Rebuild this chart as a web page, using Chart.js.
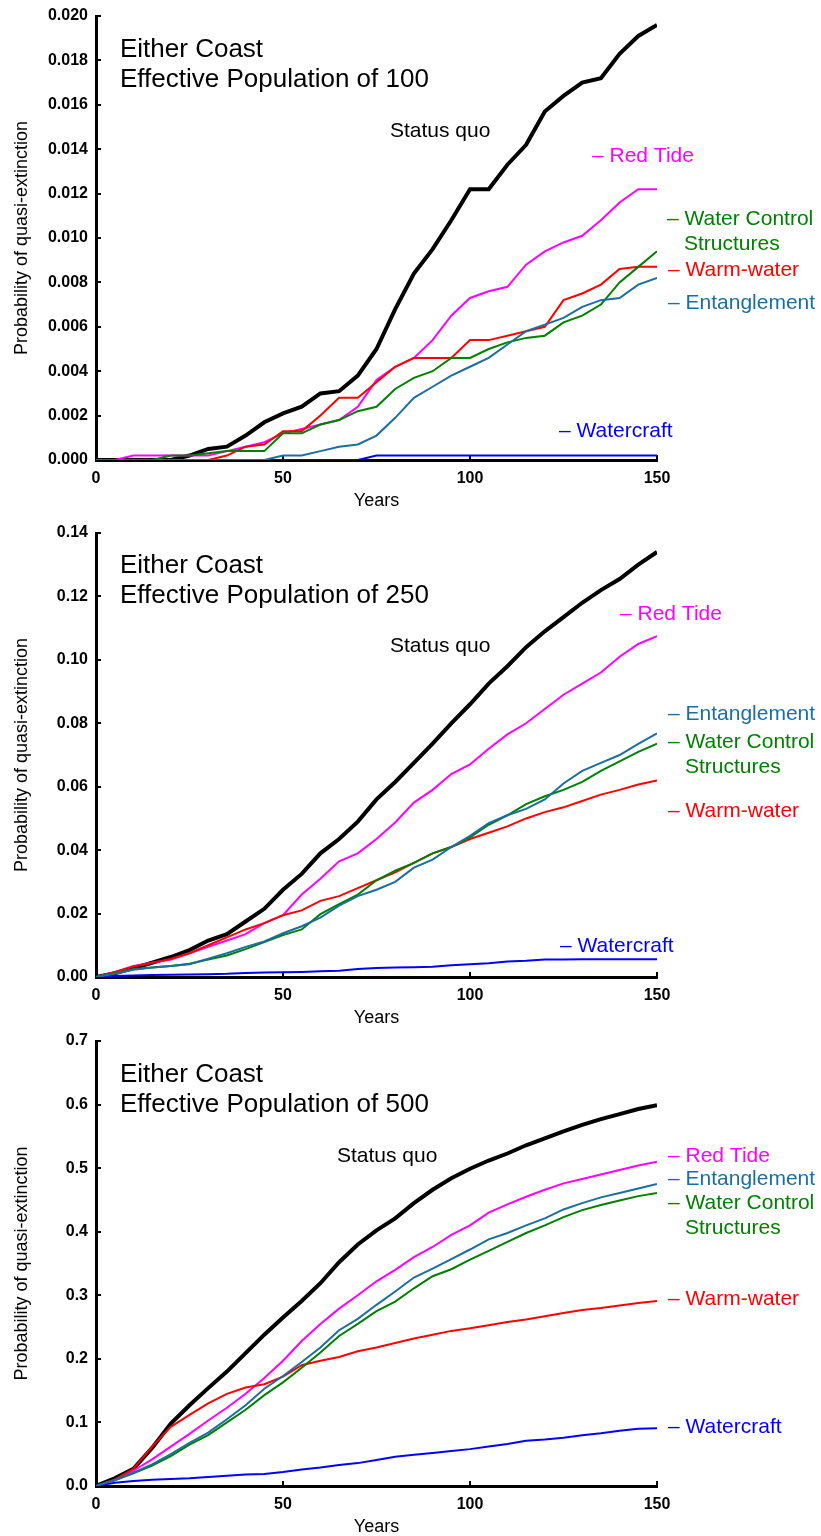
<!DOCTYPE html>
<html>
<head>
<meta charset="utf-8">
<title>Probability of quasi-extinction</title>
<script src="https://cdn.jsdelivr.net/npm/chart.js@4.4.1/dist/chart.umd.min.js"></script>
<style>
  body { margin: 0; background: #fff; }
  .panel { position: absolute; left: 0; width: 821px; }
</style>
</head>
<body>
<div class="panel" style="top:0;height:510px"><canvas id="chart100"></canvas></div>
<div class="panel" style="top:517px;height:510px"><canvas id="chart250"></canvas></div>
<div class="panel" style="top:1025px;height:511px"><canvas id="chart500"></canvas></div>
<script>
// Years on the x axis (every 5 years)
const years = [0, 5, 10, 15, 20, 25, 30, 35, 40, 45, 50, 55, 60, 65, 70, 75, 80, 85, 90, 95, 100, 105, 110, 115, 120, 125, 130, 135, 140, 145, 150];

// Effective population of 100
const statusQuo100    = [0, 0, 0, 0, 0, 0.0002, 0.0005, 0.0006, 0.0011, 0.0017, 0.0021, 0.0024, 0.0030, 0.0031, 0.0038, 0.0050, 0.0068, 0.0084, 0.0095, 0.0108, 0.0122, 0.0122, 0.0133, 0.0142, 0.0157, 0.0164, 0.0170, 0.0172, 0.0183, 0.0191, 0.0196];
const redTide100      = [0, 0, 0.0002, 0.0002, 0.0002, 0.0002, 0.0002, 0.0004, 0.0006, 0.0008, 0.0012, 0.0014, 0.0016, 0.0018, 0.0024, 0.0036, 0.0042, 0.0046, 0.0054, 0.0065, 0.0073, 0.0076, 0.0078, 0.0088, 0.0094, 0.0098, 0.0101, 0.0108, 0.0116, 0.0122, 0.0122];
const waterControl100 = [0, 0, 0, 0, 0.0002, 0.0002, 0.0003, 0.0004, 0.0004, 0.0004, 0.0012, 0.0012, 0.0016, 0.0018, 0.0022, 0.0024, 0.0032, 0.0037, 0.0040, 0.0046, 0.0046, 0.0050, 0.0053, 0.0055, 0.0056, 0.0062, 0.0065, 0.0070, 0.0080, 0.0087, 0.0094];
const warmWater100    = [0, 0, 0, 0, 0, 0, 0, 0.0002, 0.0006, 0.0007, 0.0013, 0.0013, 0.0020, 0.0028, 0.0028, 0.0035, 0.0042, 0.0046, 0.0046, 0.0046, 0.0054, 0.0054, 0.0056, 0.0058, 0.0060, 0.0072, 0.0075, 0.0079, 0.0086, 0.0087, 0.0087];
const entanglement100 = [0, 0, 0, 0, 0, 0, 0, 0, 0, 0, 0.0002, 0.0002, 0.0004, 0.0006, 0.0007, 0.0011, 0.0019, 0.0028, 0.0033, 0.0038, 0.0042, 0.0046, 0.0052, 0.0058, 0.0061, 0.0064, 0.0069, 0.0072, 0.0073, 0.0079, 0.0082];
const watercraft100   = [0, 0, 0, 0, 0, 0, 0, 0, 0, 0, 0, 0, 0, 0, 0, 0.0002, 0.0002, 0.0002, 0.0002, 0.0002, 0.0002, 0.0002, 0.0002, 0.0002, 0.0002, 0.0002, 0.0002, 0.0002, 0.0002, 0.0002, 0.0002];

// Effective population of 250
const statusQuo250    = [0, 0.0012, 0.0028, 0.0045, 0.0063, 0.0085, 0.0115, 0.0135, 0.0175, 0.0215, 0.0275, 0.0325, 0.039, 0.0435, 0.049, 0.056, 0.0615, 0.0675, 0.0736, 0.080, 0.086, 0.0925, 0.098, 0.104, 0.109, 0.1135, 0.118, 0.122, 0.1255, 0.130, 0.134];
const redTide250      = [0, 0.0015, 0.0035, 0.0045, 0.0055, 0.0075, 0.0095, 0.0115, 0.0135, 0.017, 0.0195, 0.026, 0.031, 0.0365, 0.039, 0.0435, 0.0487, 0.055, 0.059, 0.064, 0.067, 0.072, 0.0765, 0.080, 0.0845, 0.089, 0.0925, 0.096, 0.101, 0.105, 0.1075];
const waterControl250 = [0, 0.0012, 0.0025, 0.003, 0.0035, 0.0042, 0.0055, 0.0068, 0.0088, 0.011, 0.0132, 0.015, 0.0198, 0.023, 0.026, 0.0305, 0.0335, 0.036, 0.039, 0.041, 0.044, 0.048, 0.051, 0.0545, 0.057, 0.059, 0.0615, 0.065, 0.068, 0.071, 0.0736];
const warmWater250    = [0, 0.0015, 0.0033, 0.0045, 0.0057, 0.0075, 0.010, 0.0125, 0.015, 0.017, 0.0195, 0.021, 0.024, 0.0255, 0.028, 0.0305, 0.033, 0.036, 0.039, 0.041, 0.0435, 0.0455, 0.0475, 0.050, 0.052, 0.0535, 0.0555, 0.0575, 0.059, 0.0607, 0.062];
const entanglement250 = [0, 0.001, 0.0023, 0.003, 0.0035, 0.004, 0.0058, 0.0075, 0.0095, 0.0112, 0.0138, 0.016, 0.0187, 0.0225, 0.0255, 0.0275, 0.030, 0.0345, 0.037, 0.041, 0.0445, 0.0485, 0.051, 0.053, 0.056, 0.061, 0.065, 0.0675, 0.070, 0.0735, 0.0768];
const watercraft250   = [0, 0.0003, 0.0005, 0.0006, 0.0007, 0.0008, 0.0009, 0.001, 0.0013, 0.0014, 0.0015, 0.0016, 0.0018, 0.002, 0.0025, 0.0028, 0.003, 0.0031, 0.0032, 0.0037, 0.004, 0.0043, 0.0049, 0.0051, 0.0055, 0.0055, 0.0056, 0.0056, 0.0056, 0.0056, 0.0056];

// Effective population of 500
const statusQuo500    = [0, 0.012, 0.027, 0.06, 0.098, 0.127, 0.154, 0.18, 0.209, 0.238, 0.265, 0.291, 0.319, 0.352, 0.38, 0.402, 0.421, 0.445, 0.466, 0.484, 0.499, 0.512, 0.523, 0.536, 0.547, 0.558, 0.568, 0.577, 0.585, 0.593, 0.599];
const redTide500      = [0, 0.01, 0.024, 0.042, 0.062, 0.082, 0.103, 0.123, 0.145, 0.17, 0.197, 0.228, 0.255, 0.279, 0.3, 0.322, 0.34, 0.36, 0.376, 0.395, 0.41, 0.43, 0.443, 0.455, 0.466, 0.476, 0.483, 0.49, 0.497, 0.504, 0.51];
const waterControl500 = [0, 0.009, 0.02, 0.032, 0.047, 0.065, 0.08, 0.1, 0.12, 0.143, 0.163, 0.186, 0.21, 0.236, 0.255, 0.275, 0.29, 0.311, 0.33, 0.341, 0.356, 0.37, 0.384, 0.398, 0.41, 0.423, 0.434, 0.442, 0.449, 0.456, 0.461];
const warmWater500    = [0, 0.01, 0.027, 0.062, 0.093, 0.112, 0.13, 0.145, 0.155, 0.16, 0.172, 0.19, 0.197, 0.203, 0.212, 0.218, 0.225, 0.232, 0.238, 0.244, 0.248, 0.253, 0.258, 0.262, 0.267, 0.272, 0.277, 0.28, 0.284, 0.288, 0.291];
const entanglement500 = [0, 0.009, 0.021, 0.034, 0.05, 0.068, 0.084, 0.105, 0.127, 0.153, 0.173, 0.195, 0.218, 0.245, 0.263, 0.285, 0.306, 0.328, 0.342, 0.357, 0.372, 0.388, 0.398, 0.41, 0.421, 0.435, 0.445, 0.454, 0.461, 0.468, 0.475];
const watercraft500   = [0, 0.005, 0.008, 0.01, 0.011, 0.012, 0.014, 0.016, 0.018, 0.019, 0.022, 0.026, 0.029, 0.033, 0.036, 0.041, 0.046, 0.049, 0.052, 0.055, 0.058, 0.062, 0.066, 0.071, 0.073, 0.076, 0.08, 0.083, 0.087, 0.09, 0.091];

const FONT = "'Liberation Sans', Arial, Helvetica, sans-serif";

const seriesColors = {
    statusQuo: '#000000',
    redTide: '#ff00ff',
    waterControl: '#008000',
    warmWater: '#ff0000',
    entanglement: '#1b6ea0',
    watercraft: '#0000ff'
};

function toPoints(values) {
    return values.map((v, i) => ({ x: years[i], y: v }));
}

function line(label, values, color, width) {
    return {
        label: label,
        data: toPoints(values),
        borderColor: color,
        backgroundColor: color,
        borderWidth: width,
        pointRadius: 0,
        fill: false,
        tension: 0
    };
}

// first dataset is drawn on top
function makeDatasets(sq, rt, wc, ww, en, cr) {
    return [
        line('Entanglement', en, seriesColors.entanglement, 2),
        line('Watercraft', cr, seriesColors.watercraft, 2),
        line('Water Control Structures', wc, seriesColors.waterControl, 2),
        line('Warm-water', ww, seriesColors.warmWater, 2),
        line('Red Tide', rt, seriesColors.redTide, 2),
        line('Status quo', sq, seriesColors.statusQuo, 4)
    ];
}

// Text annotations (canvas pixels)
function labelPlugin(items) {
    return {
        id: 'textLabels',
        afterDraw(chart) {
            const ctx = chart.ctx;
            ctx.save();
            ctx.textBaseline = 'alphabetic';
            ctx.textAlign = 'left';
            items.forEach(item => {
                ctx.font = item.size + 'px ' + FONT;
                ctx.fillStyle = item.color;
                ctx.fillText(item.text, item.x, item.y);
            });
            ctx.restore();
        }
    };
}

function panelLabels(pop, pos) {
    return [
        { text: 'Either Coast', x: 120, y: pos.title, size: 26, color: '#000' },
        { text: 'Effective Population of ' + pop, x: 120, y: pos.title + 30, size: 26, color: '#000' },
        { text: 'Status quo', x: pos.sq[0], y: pos.sq[1], size: 21, color: seriesColors.statusQuo },
        { text: '\u2013 Red Tide', x: pos.rt[0], y: pos.rt[1], size: 21, color: seriesColors.redTide },
        { text: '\u2013 Water Control', x: pos.wc[0], y: pos.wc[1], size: 21, color: seriesColors.waterControl },
        { text: 'Structures', x: pos.wc[0] + 17, y: pos.wc[1] + 25, size: 21, color: seriesColors.waterControl },
        { text: '\u2013 Warm-water', x: pos.ww[0], y: pos.ww[1], size: 21, color: seriesColors.warmWater },
        { text: '\u2013 Entanglement', x: pos.en[0], y: pos.en[1], size: 21, color: seriesColors.entanglement },
        { text: '\u2013 Watercraft', x: pos.cr[0], y: pos.cr[1], size: 21, color: seriesColors.watercraft }
    ];
}

function makeChart(id, datasets, yMax, yStep, decimals, labels) {
    const tickFont = { family: FONT, size: 16, weight: 'bold' };
    const titleFont = { family: FONT, size: 18 };
    const grid = { drawOnChartArea: false, drawTicks: true, tickLength: -5, color: '#000', lineWidth: 2 };
    const border = { display: true, color: '#000', width: 3 };

    return new Chart(document.getElementById(id), {
        type: 'line',
        data: { datasets: datasets },
        options: {
            responsive: true,
            maintainAspectRatio: false,
            animation: false,
            layout: { padding: { top: 16, right: 164, left: 0, bottom: 0 } },
            plugins: {
                legend: { display: false },
                tooltip: { enabled: false }
            },
            scales: {
                x: {
                    type: 'linear',
                    min: 0,
                    max: 150,
                    ticks: { stepSize: 50, padding: 14, color: '#000', font: tickFont, maxRotation: 0 },
                    grid: grid,
                    border: border,
                    title: { display: true, text: 'Years', color: '#000', font: titleFont, padding: { top: 0, bottom: -2 } },
                    afterFit: scale => { scale.height = 50; }
                },
                y: {
                    type: 'linear',
                    min: 0,
                    max: yMax,
                    ticks: {
                        stepSize: yStep,
                        padding: 13,
                        color: '#000',
                        font: tickFont,
                        callback: value => Number(value).toFixed(decimals)
                    },
                    grid: grid,
                    border: border,
                    title: { display: true, text: 'Probability of quasi-extinction', color: '#000', font: titleFont, padding: { top: 11, bottom: 0 } },
                    afterFit: scale => {
                        scale.width = 96;
                        scale.paddingTop = 0;
                        scale.paddingBottom = 0;
                    }
                }
            }
        },
        plugins: [labelPlugin(labels)]
    });
}

document.addEventListener('DOMContentLoaded', function() {
    makeChart('chart100',
        makeDatasets(statusQuo100, redTide100, waterControl100, warmWater100, entanglement100, watercraft100),
        0.02, 0.002, 3,
        panelLabels(100, { title: 57, sq: [390, 137], rt: [592, 162], wc: [667, 225], ww: [668, 276], en: [668, 309], cr: [559, 437] }));

    makeChart('chart250',
        makeDatasets(statusQuo250, redTide250, waterControl250, warmWater250, entanglement250, watercraft250),
        0.14, 0.02, 2,
        panelLabels(250, { title: 56, sq: [390, 135], rt: [620, 103], wc: [668, 231], ww: [668, 300], en: [668, 203], cr: [560, 435] }));

    makeChart('chart500',
        makeDatasets(statusQuo500, redTide500, waterControl500, warmWater500, entanglement500, watercraft500),
        0.7, 0.1, 1,
        panelLabels(500, { title: 57, sq: [337, 137], rt: [668, 137], wc: [668, 184], ww: [668, 280], en: [668, 160], cr: [668, 408] }));
});
</script>
</body>
</html>
